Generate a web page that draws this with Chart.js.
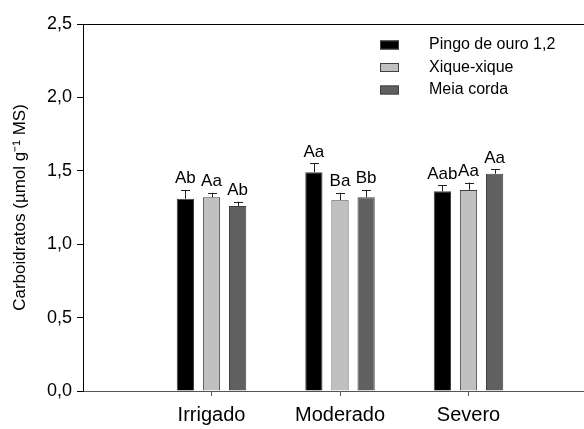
<!DOCTYPE html>
<html>
<head>
<meta charset="utf-8">
<script src="https://cdn.jsdelivr.net/npm/chart.js@4/dist/chart.umd.min.js"></script>
<style>
  body { margin: 0; background: #fff; }
  #wrap { width: 584px; height: 429px; overflow: hidden; }
</style>
</head>
<body>
<div id="wrap"><canvas id="myChart" width="604" height="429"></canvas></div>
<script>
var categories = ['', 'Irrigado', 'Moderado', 'Severo', ''];
var seriesNames = ['Pingo de ouro 1,2', 'Xique-xique', 'Meia corda'];
var pingoValues = [null, 1.31, 1.49, 1.36, null];
var xiqueValues = [null, 1.32, 1.30, 1.37, null];
var meiaValues = [null, 1.26, 1.32, 1.48, null];
var pingoErr = [null, 0.06, 0.06, 0.04, null];
var xiqueErr = [null, 0.03, 0.05, 0.05, null];
var meiaErr = [null, 0.03, 0.05, 0.03, null];
var pingoLetters = [null, 'Ab', 'Aa', 'Aab', null];
var xiqueLetters = [null, 'Aa', 'Ba', 'Aa', null];
var meiaLetters = [null, 'Ab', 'Bb', 'Aa', null];
var yTicks = [0, 0.5, 1.0, 1.5, 2.0, 2.5];
var barColors = ['#000000', '#c0c0c0', '#606060'];

var FONT = "'Liberation Sans', Arial, sans-serif";

// error bars, letters, top line and legend
var extras = {
  id: 'extras',
  afterDatasetsDraw: function (chart) {
    var ctx = chart.ctx;
    var y = chart.scales.y;
    var area = chart.chartArea;
    ctx.save();
    chart.data.datasets.forEach(function (ds, i) {
      var meta = chart.getDatasetMeta(i);
      meta.data.forEach(function (bar, j) {
        if (ds.data[j] == null) return;
        var top = y.getPixelForValue(ds.data[j] + ds.err[j]);
        ctx.strokeStyle = '#222';
        ctx.lineWidth = 1;
        ctx.beginPath();
        ctx.moveTo(Math.round(bar.x) + 0.5, bar.y);
        ctx.lineTo(Math.round(bar.x) + 0.5, top);
        ctx.moveTo(Math.round(bar.x) - 4, Math.round(top) + 0.5);
        ctx.lineTo(Math.round(bar.x) + 5, Math.round(top) + 0.5);
        ctx.stroke();
        ctx.fillStyle = '#000';
        ctx.font = '17px ' + FONT;
        ctx.textAlign = 'center';
        ctx.textBaseline = 'bottom';
        ctx.fillText(ds.letters[j], bar.x, top - 3);
      });
    });
    // top frame line
    ctx.strokeStyle = '#000';
    ctx.beginPath();
    ctx.moveTo(area.left, Math.round(area.top) + 0.5);
    ctx.lineTo(area.right, Math.round(area.top) + 0.5);
    ctx.stroke();
    // legend
    ctx.font = '16px ' + FONT;
    ctx.textAlign = 'left';
    ctx.textBaseline = 'middle';
    chart.data.datasets.forEach(function (ds, i) {
      var cy = 45 + i * 22.5;
      ctx.fillStyle = ds.backgroundColor;
      ctx.fillRect(380, cy - 4.5, 19, 9);
      ctx.strokeStyle = '#404040';
      ctx.strokeRect(380.5, cy - 4, 18, 8);
      ctx.fillStyle = '#000';
      ctx.fillText(ds.label, 429, cy);
    });
    ctx.restore();
  }
};

new Chart('myChart', {
  type: 'bar',
  data: {
    labels: categories,
    datasets: [
      { label: seriesNames[0], data: pingoValues, err: pingoErr, letters: pingoLetters, backgroundColor: barColors[0] },
      { label: seriesNames[1], data: xiqueValues, err: xiqueErr, letters: xiqueLetters, backgroundColor: barColors[1] },
      { label: seriesNames[2], data: meiaValues, err: meiaErr, letters: meiaLetters, backgroundColor: barColors[2] }
    ].map(function (d) {
      d.borderColor = '#404040';
      d.borderWidth = 1;
      d.categoryPercentage = 0.61;
      d.barPercentage = 0.66;
      return d;
    })
  },
  options: {
    responsive: false,
    animation: false,
    layout: { padding: { top: 24, left: 0, right: 0, bottom: 0 } },
    plugins: {
      legend: { display: false },
      tooltip: { enabled: false }
    },
    scales: {
      x: {
        offset: false,
        afterFit: function (s) { s.height = 38; },
        border: { color: '#555', width: 1 },
        grid: {
          offset: false,
          drawOnChartArea: false,
          tickLength: 5,
          color: function (c) {
            return (c.index === 0 || c.index === categories.length - 1) ? 'rgba(0,0,0,0)' : '#555';
          }
        },
        ticks: {
          color: '#000',
          font: { size: 20, family: FONT },
          padding: 7,
          maxRotation: 0,
          autoSkip: false
        }
      },
      y: {
        min: 0,
        max: 2.5,
        afterFit: function (s) { s.width = 83; },
        afterBuildTicks: function (s) {
          s.ticks = yTicks.map(function (v) { return { value: v }; });
        },
        border: { color: '#000', width: 1 },
        grid: { drawOnChartArea: false, tickLength: 6, color: '#000' },
        ticks: {
          color: '#000',
          font: { size: 18, family: FONT },
          padding: 5,
          callback: function (v) { return v.toFixed(1).replace('.', ','); }
        },
        title: {
          display: true,
          text: 'Carboidratos (µmol g⁻¹ MS)',
          color: '#000',
          font: { size: 17, family: FONT },
          padding: { top: 10, bottom: 0 }
        }
      }
    }
  },
  plugins: [extras]
});
</script>
</body>
</html>
